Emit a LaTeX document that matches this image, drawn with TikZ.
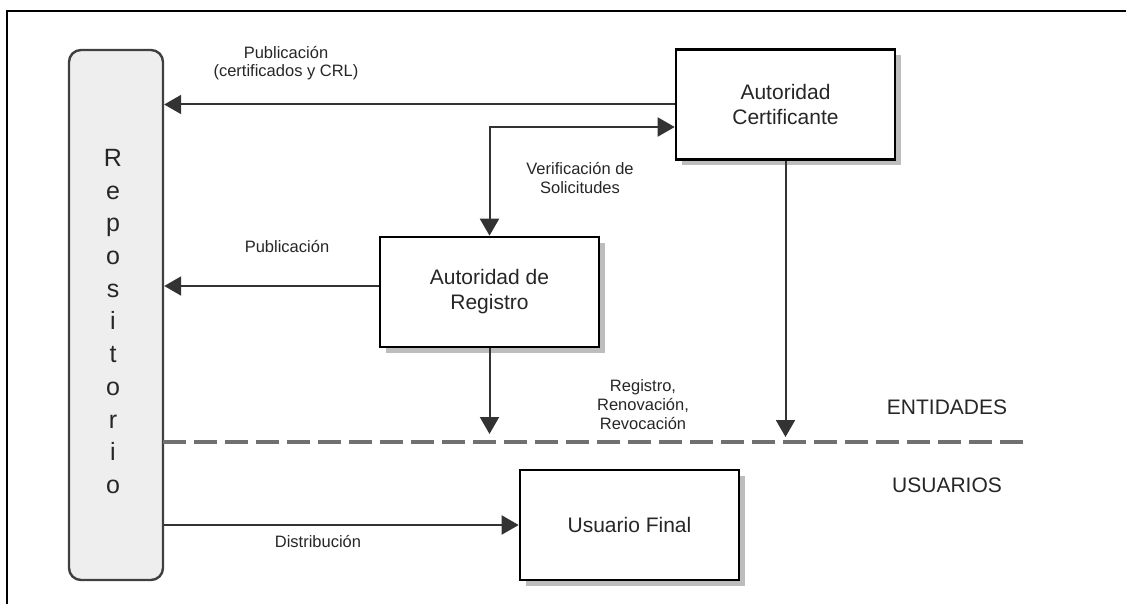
\documentclass[tikz,border=0pt]{standalone}
\usepackage{fontspec}
\setmainfont{Liberation Sans}
\usetikzlibrary{arrows.meta,shadows}
\definecolor{linecol}{HTML}{333333}
\definecolor{txtcol}{HTML}{262626}
\definecolor{repofill}{HTML}{EEEEEE}
\definecolor{repoline}{HTML}{404040}
\definecolor{shadowgray}{HTML}{BDBDBD}
\definecolor{dashcol}{HTML}{707070}
\tikzset{
  entity/.style={draw=black, line width=2.6pt, fill=white, minimum width=219pt,
    minimum height=110pt, inner sep=0pt, align=center, text=txtcol,
    font=\fontsize{21}{25}\selectfont,
    drop shadow={shadow xshift=6pt, shadow yshift=-6pt, fill=shadowgray, opacity=1}},
  repo/.style={draw=repoline, line width=2.4pt, fill=repofill, rounded corners=12pt,
    minimum width=94pt, minimum height=530pt, inner sep=0pt},
  lbl/.style={inner sep=0pt, align=center, text=txtcol,
    font=\fontsize{16.5}{18.5}\selectfont},
  biglbl/.style={inner sep=0pt, text=txtcol, font=\fontsize{21}{25}\selectfont},
  arr/.style={draw=linecol, line width=2pt, -{Triangle[length=17pt,width=19pt]}},
  twoway/.style={draw=linecol, line width=2pt,
    {Triangle[length=17pt,width=19pt]}-{Triangle[length=17pt,width=19pt]}},
  divider/.style={draw=dashcol, line width=3.8pt, dash pattern=on 23pt off 8pt}
}
\begin{document}
\begin{tikzpicture}[x=1pt,y=-1pt]
\useasboundingbox (0,0) rectangle (1126,604);
% frame
\draw[line width=1.6pt] (7,604) -- (7,11) -- (1126,11);

% repository column
\node[repo] (repo) at (116,315) {};
\node[inner sep=0pt, align=center, text=txtcol,
      font=\fontsize{25}{32.7}\selectfont] (repotext) at (113,321.5)
  {R\\e\\p\\o\\s\\i\\t\\o\\r\\i\\o};

% entities
\node[entity] (ca) at (785.5,104.5) {Autoridad\\Certificante};
\node[entity] (ra) at (489.5,292) {Autoridad de\\Registro};
\node[entity] (uf) at (629.5,525) {Usuario Final};

% divider between entities and users
\coordinate (dl) at (163,442);
\coordinate (dr) at (1028,442);
\draw[divider] (dl) -- (dr);
\node[biglbl] (ent) at (947,407.5) {ENTIDADES};
\node[biglbl] (usr) at (947,485.5) {USUARIOS};

% connectors
\draw[arr] (ca.west) -- (repo.east |- ca.west);
\node[lbl] (pubca) at (286,63) {Publicación\\(certificados y CRL)};

\draw[twoway] (ra.north) |- (ca.west |- 0,127);
\node[lbl] (verif) at (580,178) {Verificación de\\Solicitudes};

\draw[arr] (ra.west |- 0,286) -- (repo.east |- 0,286);
\node[lbl] (pubra) at (287,247) {Publicación};

\coordinate (rastop) at (489.5,434);
\coordinate (castop) at (785.5,437);
\draw[arr] (ra.south) -- (rastop);
\draw[arr] (ca.south) -- (castop);
\node[lbl, font=\fontsize{16.5}{19}\selectfont] (reg) at (643,405)
  {Registro,\\Renovación,\\Revocación};

\draw[arr] (repo.east |- uf.west) -- (uf.west);
\node[lbl] (dist) at (318,542) {Distribución};
\end{tikzpicture}
\end{document}
